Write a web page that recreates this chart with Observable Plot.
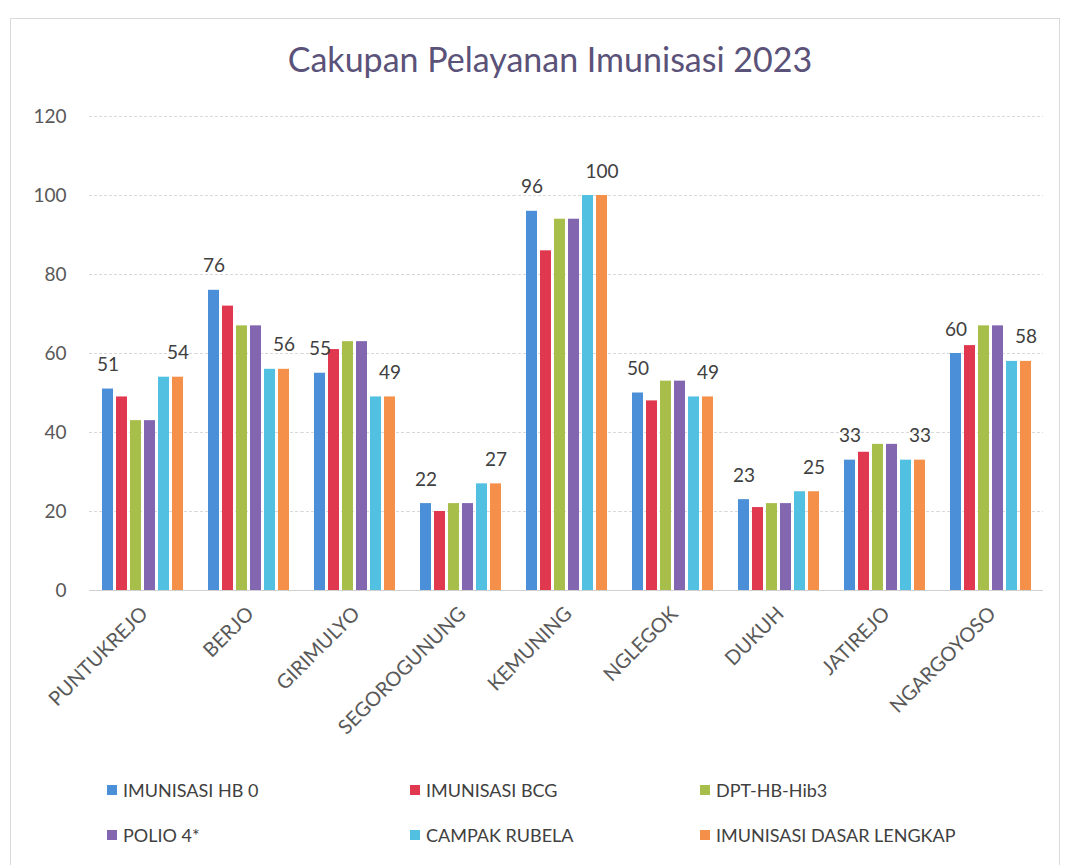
<!DOCTYPE html>
<html>
<head>
<meta charset="utf-8">
<script src="https://cdn.jsdelivr.net/npm/d3@7"></script>
<script src="https://cdn.jsdelivr.net/npm/@observablehq/plot@0.6"></script>
<style>
  html, body { margin: 0; padding: 0; background: #fff; }
  #wrap { position: relative; width: 1068px; height: 865px; overflow: hidden; font-family: Lato, "Open Sans", sans-serif; }
  #frame { position: absolute; left: 10px; top: 18px; width: 1050px; height: 860px; border: 1px solid #d9d9d9; box-sizing: border-box; }
  #title { position: absolute; left: 16px; top: 38px; width: 1068px; text-align: center; font-size: 34px; color: #5a5278; }
  #chart { position: absolute; left: 0; top: 100px; }
  #legend { position: absolute; left: 0; top: 770px; width: 1068px; }
  .li { position: absolute; display: flex; align-items: center; font-size: 18px; color: #404040; white-space: nowrap; }
  .sw { width: 10px; height: 10px; margin-right: 6px; }
</style>
</head>
<body>
<div id="wrap">
  <div id="frame"></div>
  <div id="title">Cakupan Pelayanan Imunisasi 2023</div>
  <div id="chart"></div>
  <div id="legend"></div>
</div>
<script>
const categories = ["PUNTUKREJO","BERJO","GIRIMULYO","SEGOROGUNUNG","KEMUNING","NGLEGOK","DUKUH","JATIREJO","NGARGOYOSO"];
const seriesNames = ["IMUNISASI HB 0","IMUNISASI BCG","DPT-HB-Hib3","POLIO 4*","CAMPAK RUBELA","IMUNISASI DASAR LENGKAP"];
const hb0     = [51, 76, 55, 22, 96, 50, 23, 33, 60];
const bcg     = [49, 72, 61, 20, 86, 48, 21, 35, 62];
const dpt     = [43, 67, 63, 22, 94, 53, 22, 37, 67];
const polio   = [43, 67, 63, 22, 94, 53, 22, 37, 67];
const campak  = [54, 56, 49, 27, 100, 49, 25, 33, 58];
const idl     = [54, 56, 49, 27, 100, 49, 25, 33, 58];
const yTicks  = [0, 20, 40, 60, 80, 100, 120];
const labeledSeries = ["IMUNISASI HB 0", "IMUNISASI DASAR LENGKAP"];
const colors = ["#4a8fd8","#e0394f","#a7bf4a","#8366b0","#52c0e0","#f4904a"];

const seriesValues = [hb0, bcg, dpt, polio, campak, idl];
const data = [];
categories.forEach((c, i) => {
  seriesNames.forEach((s, j) => data.push({cat: c, series: s, value: seriesValues[j][i]}));
});

const plot = Plot.plot({
  width: 1068,
  height: 640,
  marginLeft: 87,
  marginRight: 23,
  marginTop: 16,
  marginBottom: 150,
  style: {fontFamily: "Lato, 'Open Sans', sans-serif", background: "transparent"},
  fx: {domain: categories, padding: 0, label: null},
  x: {domain: seriesNames, axis: null, paddingInner: 0.23, paddingOuter: 0.9},
  y: {domain: [0, 120], label: null},
  color: {domain: seriesNames, range: colors},
  marks: [
    Plot.gridY(yTicks, {stroke: "#d9d9d9", strokeOpacity: 1, strokeDasharray: "3,2"}),
    Plot.ruleY([0], {stroke: "#d0d0d0"}),
    Plot.axisY({ticks: yTicks, tickSize: 0, tickPadding: 23, fontSize: 19, fill: "#595959", label: null}),
    Plot.axisFx({anchor: "bottom", tickSize: 0, tickRotate: -45, tickPadding: 20, fontSize: 20, fill: "#595959", label: null, textAnchor: "end", dx: 2}),
    Plot.barY(data, {fx: "cat", x: "series", y: "value", fill: "series"}),
    Plot.text(data.filter(d => labeledSeries.includes(d.series)), {fx: "cat", x: "series", y: "value", text: d => String(d.value), dy: -24, fontSize: 19, fill: "#404040"})
  ]
});
document.getElementById("chart").appendChild(plot);

const legend = document.getElementById("legend");
const legPos = [[107, 20], [410, 20], [700, 20], [107, 65], [410, 65], [700, 65]];
seriesNames.forEach((s, i) => {
  const el = document.createElement("div");
  el.className = "li";
  el.style.left = legPos[i][0] + "px";
  el.style.top = (legPos[i][1] - 11) + "px";
  el.innerHTML = `<span class="sw" style="background:${colors[i]}"></span><span>${s}</span>`;
  legend.appendChild(el);
});
</script>
</body>
</html>
